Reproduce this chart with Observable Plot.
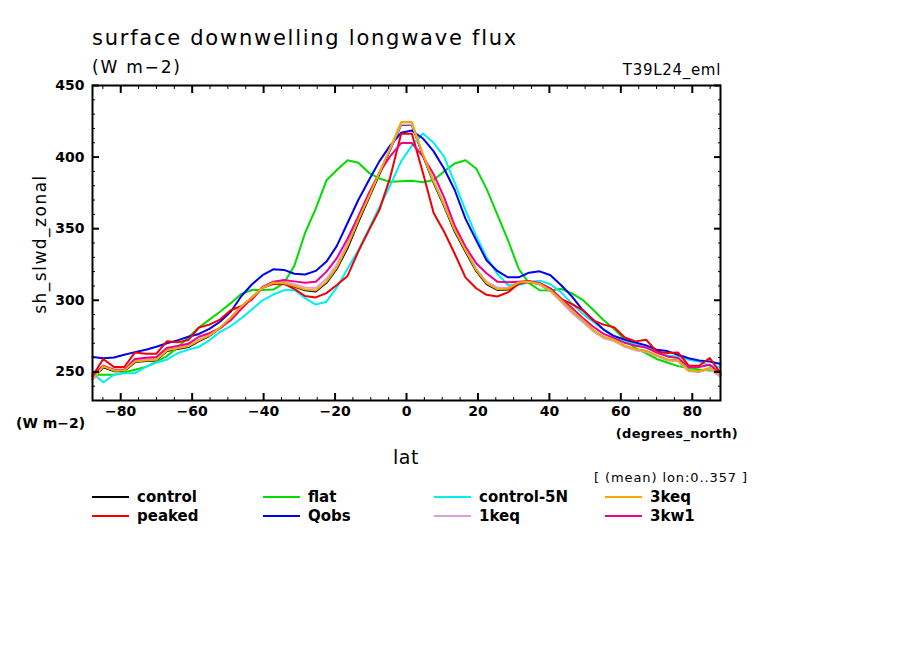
<!DOCTYPE html>
<html><head><meta charset="utf-8">
<script src="https://cdn.jsdelivr.net/npm/d3@7"></script>
<script src="https://cdn.jsdelivr.net/npm/@observablehq/plot@0.6"></script>
<style>
body{margin:0;background:#fff;}
#wrap{position:relative;width:904px;height:654px;font-family:"DejaVu Sans",sans-serif;color:#000;overflow:hidden;}
#wrap svg{position:absolute;left:0;top:0;}
.t{position:absolute;white-space:nowrap;line-height:1;}
.c{transform:translateY(-50%);}
.b{font-weight:bold;}
.lg{position:absolute;height:2px;width:37px;}
</style></head><body><div id="wrap"></div>
<script>
const lat = [-87.9,-84.9,-81.9,-79.0,-76.0,-73.0,-70.0,-67.1,-64.1,-61.1,-58.1,-55.2,-52.2,-49.2,-46.2,-43.3,-40.3,-37.3,-34.3,-31.4,-28.4,-25.4,-22.4,-19.5,-16.5,-13.5,-10.5,-7.6,-4.6,-1.5,
 1.5,4.6,7.6,10.5,13.5,16.5,19.5,22.4,25.4,28.4,31.4,34.3,37.3,40.3,43.3,46.2,49.2,52.2,55.2,58.1,61.1,64.1,67.1,70.0,73.0,76.0,79.0,81.9,84.9,87.9];

const control = [245,253.2,250.5,250.6,256.8,257.5,258,264.5,266,267.3,271.5,275,280.5,287.5,295.5,301.8,308.5,312,311.7,309.6,307,306.2,312.2,322,336.5,354.5,371.5,388,405,422.5,
 422.5,401,382,366,348,334,320.5,311.2,307.2,307.6,312.2,312.8,311.1,306.6,299.6,292.5,286,279,274,272,268,265.5,264.5,261.3,258.4,257.8,251,250.2,252.4,247.8];
const peaked = [246.9,259,253.4,253.4,263.6,262.7,262.7,271.3,270.6,272.2,281,283,286.5,293,296,300.5,308.8,311.4,311.4,308,303,302,305,310.7,317,334,349,363,385.5,416.3,
 416.3,389,361,348,332.5,316,308.4,303.8,302.6,305.5,311.5,313,311.9,308.2,301,297.5,293.3,286,283,281.2,274,271.3,272.4,264.3,263.1,263.6,254.3,254.3,259.7,249.2];
const flat = [248,248,248,249.5,251.5,253.5,257,261,267,274,281,286.5,292,298,304.5,307.2,307.2,307.5,312,324,347,364,383.8,391,397.8,396,389,385,382.7,383.2,
 383.4,382.5,384,390,395.5,397.8,392,378,360,342,322,312,307,306.8,308,305,300.5,293.5,286,280,272.5,266.5,263,259,256.5,254,252.7,251.7,251,250.4];
const qobs = [260.4,259.5,260,262,263.8,265.5,267.5,270,272,274.5,276.5,280,285,292,303,311,317.5,321.6,321.2,318.5,318,320.5,327,338,354,370,384,397,408,417,
 418.5,413,404,392,377,357,342,328,320.5,316,316,319.3,320.2,317.5,310.5,303,293.5,286.5,279.5,275,272.5,270.5,268.5,265.5,264.5,262,259.5,258,257.3,255.5];
const control5N = [249.2,242.7,248,249,249.2,253.5,256.5,258.5,263,265.5,267.5,272,278,282,287.5,293.5,300,304,307,307.3,301.5,297,299,309,322,335,350,365,380,397,
 408,416.5,410,400.5,382,363,345,330,318.5,310.7,310.7,312.8,313.7,311.2,305.5,298,291,285,279.5,274.5,271.5,269.5,267,264.5,261.5,260.5,258.5,257.3,254.3,253.4];
const keq1 = [245,254,251,251.2,258,258.8,259.3,265.5,267,268.5,272.5,275.5,280.5,287,295,301.5,308.5,312.3,312.8,311.3,309,308.5,315,325,340,357,373.5,389.5,405.5,422.8,
 422.8,401.5,383,367,349.5,335.5,322,313,308.8,309,312.5,313,311,306.5,299,291.5,285,278.5,273.5,271.5,267.5,265,264,261,258,257.5,250.5,250,252,246.5];
const keq3 = [244.6,253.8,251,251,257.3,258,258.5,265,266.5,267.8,272,275.5,281,288,296,302,308.8,312.3,312,310,307.5,306.8,313,323,338,356,372.5,389,406,424.5,
 424.5,402,383,367,349,335,321.2,311.9,307.7,308,312.5,313,311.4,307,300,293,286.5,279.4,274.5,272.3,268.2,265.8,264.5,261.5,258.5,258,251,250.4,252.7,248];
const kw13 = [246.9,254.3,251.5,251.5,259,259.8,260.4,266.6,268,269.6,274.5,277,280.5,286,294,301.5,309.3,313,314.2,313.2,312.3,313,320,329.5,343,358.5,375,389,400.5,409.8,
 409.8,400.5,388,372,352,337.5,325.8,318.9,313,312.6,313,313.5,311.9,308.2,301,295,288,281.7,276.5,273.6,270.3,268.3,267,263.5,260.8,259.7,253.4,253.4,255,248.7];

const seriesNames = ["control","peaked","flat","Qobs","control-5N","1keq","3keq","3kw1"];
const seriesColors = ["#000000","#f00000","#00dc00","#0000f0","#00f0f0","#dca0dc","#f0aa00","#f0008c"];
const seriesValues = [control,peaked,flat,qobs,control5N,keq1,keq3,kw13];
// draw order: first drawn is underneath
const drawOrder = ["control","flat","control-5N","Qobs","peaked","1keq","3kw1","3keq"];

const xTicks = [-80,-60,-40,-20,0,20,40,60,80];
const xMinor = [-85,-75,-70,-65,-55,-50,-45,-35,-30,-25,-15,-10,-5,5,10,15,25,30,35,45,50,55,65,70,75,85];
const yTicks = [250,300,350,400,450];
const yMinor = [240,260,270,280,290,310,320,330,340,360,370,380,390,410,420,430,440];

const rows = [];
drawOrder.forEach(name => {
  const i = seriesNames.indexOf(name);
  lat.forEach((la, j) => rows.push({series: name, lat: la, v: seriesValues[i][j]}));
});

const fmt = d => d < 0 ? "\u2212" + (-d) : String(d);

const chart = Plot.plot({
  width: 904, height: 654,
  marginLeft: 92, marginRight: 184, marginTop: 85, marginBottom: 254,
  x: {domain: [-87.9, 87.9]},
  y: {domain: [230, 450]},
  color: {domain: seriesNames, range: seriesColors},
  style: {fontFamily: "DejaVu Sans", fontSize: "14px", fontWeight: "bold", background: "transparent", overflow: "visible"},
  marks: [
    Plot.line(rows, {x: "lat", y: "v", z: "series", stroke: "series", strokeWidth: 2}),
    Plot.axisX({anchor: "bottom", ticks: xTicks, tickSize: 0, tickPadding: 6, tickFormat: fmt, label: null, fontSize: 14}),
    Plot.axisY({anchor: "left", ticks: yTicks, tickSize: 0, tickPadding: 8, tickFormat: fmt, label: null, fontSize: 14}),
    Plot.axisX({anchor: "bottom", ticks: xTicks, tickSize: -7, tickFormat: () => "", label: null, strokeWidth: 2}),
    Plot.axisX({anchor: "bottom", ticks: xMinor, tickSize: -3, tickFormat: () => "", label: null}),
    Plot.axisX({anchor: "top", ticks: xTicks, tickSize: -7, tickFormat: () => "", label: null, strokeWidth: 2}),
    Plot.axisX({anchor: "top", ticks: xMinor, tickSize: -3, tickFormat: () => "", label: null}),
    Plot.axisY({anchor: "left", ticks: yTicks, tickSize: -7, tickFormat: () => "", label: null, strokeWidth: 2}),
    Plot.axisY({anchor: "left", ticks: yMinor, tickSize: -3, tickFormat: () => "", label: null}),
    Plot.axisY({anchor: "right", ticks: yTicks, tickSize: -7, tickFormat: () => "", label: null, strokeWidth: 2}),
    Plot.axisY({anchor: "right", ticks: yMinor, tickSize: -3, tickFormat: () => "", label: null}),
    Plot.frame({stroke: "#000", strokeWidth: 2})
  ]
});

const wrap = document.getElementById("wrap");
wrap.appendChild(chart);

function addText(txt, css, cls) {
  const d = document.createElement("div");
  d.className = "t " + (cls || "");
  d.textContent = txt;
  Object.assign(d.style, css);
  wrap.appendChild(d);
  return d;
}
addText("surface downwelling longwave flux", {left: "92px", top: "28px", fontSize: "21px", letterSpacing: "1.75px"});
addText("(W m\u22122)", {left: "92px", top: "59px", fontSize: "17px", letterSpacing: "1.8px"});
addText("T39L24_eml", {right: "183px", top: "63px", fontSize: "15px", letterSpacing: "0.7px"});
const yl = addText("sh_slwd_zonal", {left: "40px", top: "244px", fontSize: "17px", letterSpacing: "1.5px"});
yl.style.transform = "translate(-50%,-50%) rotate(-90deg)";
addText("(W m\u22122)", {left: "16px", top: "423px", fontSize: "14px"}, "c b");
addText("(degrees_north)", {right: "166px", top: "433px", fontSize: "13px", letterSpacing: "0.3px"}, "c b");
const ll = addText("lat", {left: "406px", top: "457px", fontSize: "19px", letterSpacing: "0.5px"});
ll.style.transform = "translate(-50%,-50%)";
addText("[ (mean) lon:0..357 ]", {right: "156px", top: "477px", fontSize: "13px", letterSpacing: "0.9px"}, "c");

// legend: columns of two rows
const legendOrder = [["control","peaked"],["flat","Qobs"],["control-5N","1keq"],["3keq","3kw1"]];
const colX = [92, 263, 434, 605];
const rowY = [497, 516];
legendOrder.forEach((col, ci) => col.forEach((name, ri) => {
  const i = seriesNames.indexOf(name);
  const ln = document.createElement("div");
  ln.className = "lg";
  ln.style.left = colX[ci] + "px";
  ln.style.top = (rowY[ri] - 1) + "px";
  ln.style.background = seriesColors[i];
  wrap.appendChild(ln);
  addText(name, {left: (colX[ci] + 45) + "px", top: rowY[ri] + "px", fontSize: "15px"}, "c b");
}));
</script></body></html>
